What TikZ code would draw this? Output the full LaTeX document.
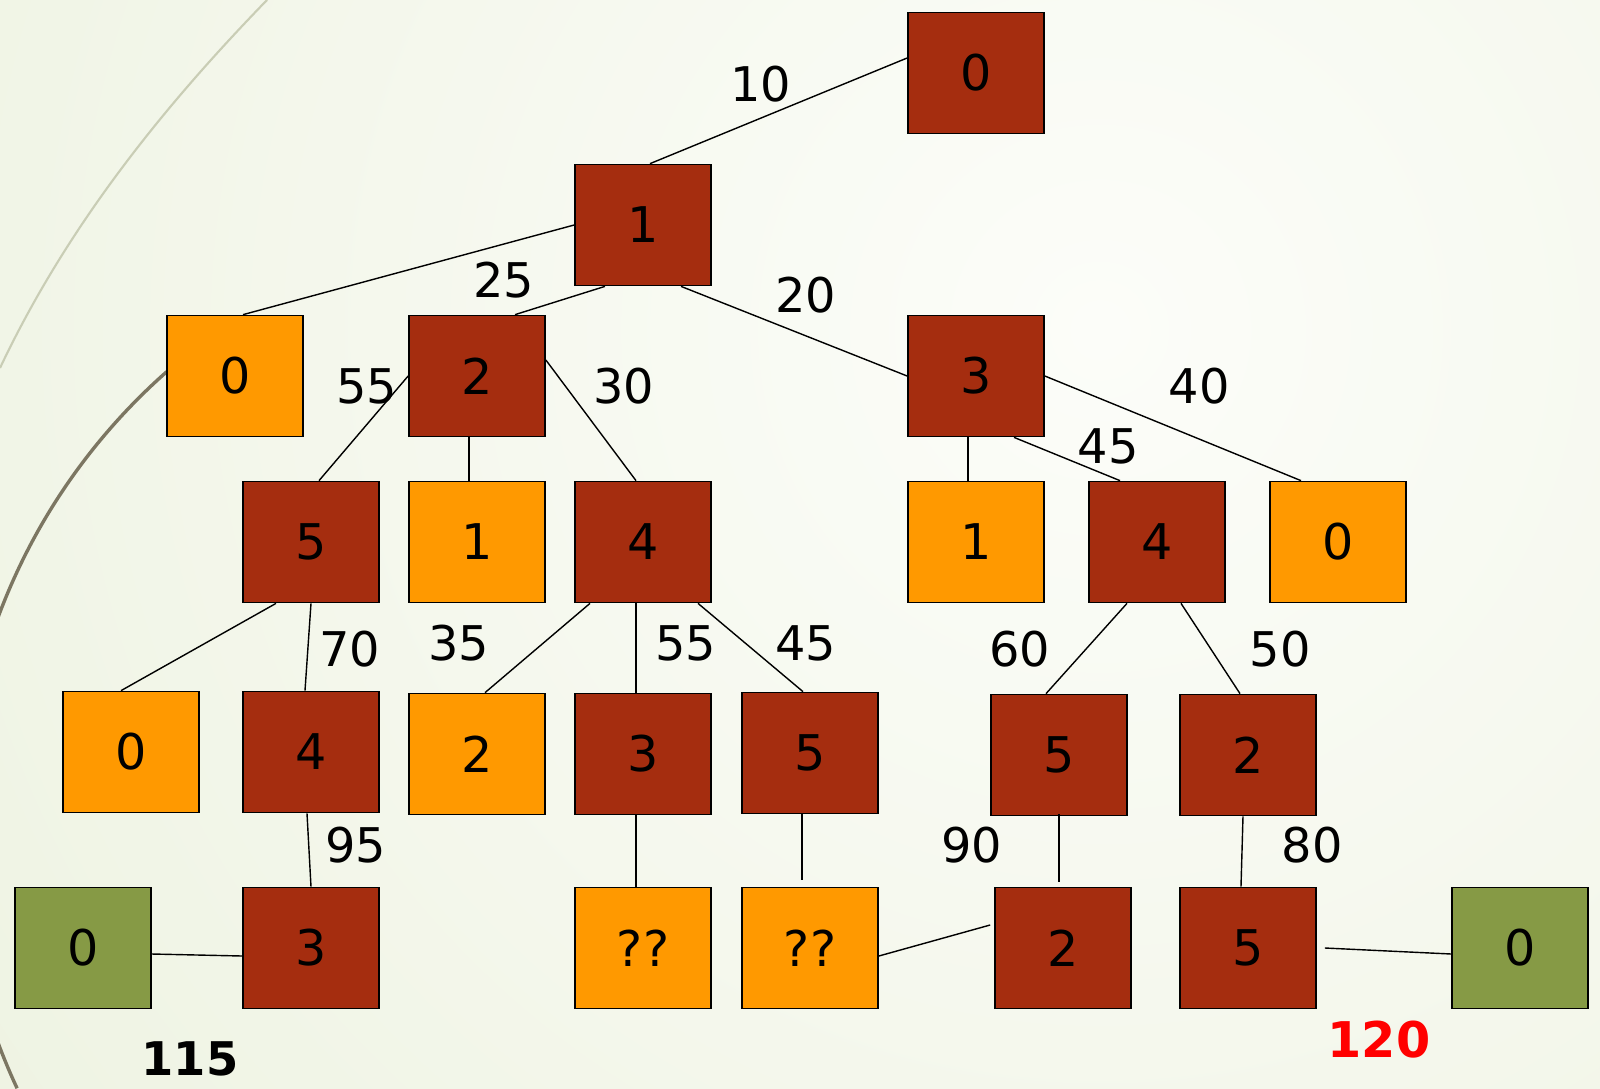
\documentclass[tikz,border=0pt]{standalone}
\usepackage{fontspec}
\setmainfont{DejaVu Sans}
\usetikzlibrary{calc}
\definecolor{nodebrown}{RGB}{165,45,15}
\definecolor{nodeorange}{RGB}{255,153,0}
\definecolor{nodegreen}{RGB}{134,154,69}
\definecolor{bgin}{RGB}{252,253,249}
\definecolor{bgout}{RGB}{226,234,206}
\definecolor{arcdark}{RGB}{124,118,98}
\definecolor{arclight}{RGB}{201,205,181}

\begin{document}
\begin{tikzpicture}[
    x=0.025cm, y=-0.025cm,
    cell/.style={draw, line width=1.2pt, minimum width=3.4cm, minimum height=3.025cm, inner sep=0pt, font=\fontsize{35}{40}\selectfont},
    hot/.style={cell, fill=nodebrown},
    leaf/.style={cell, fill=nodeorange},
    goal/.style={cell, fill=nodegreen},
    link/.style={line width=1pt},
    cost/.style={inner sep=0pt, font=\fontsize{34}{40}\selectfont},
    total/.style={inner sep=0pt, font=\bfseries\fontsize{33}{38}\selectfont}
]
  \useasboundingbox (0,0) rectangle (1600,1088);
  % background
  \begin{scope}
    \clip (0,0) rectangle (1600,1088);
    \shade[inner color=bgin, outer color=bgout] (1100,330) circle[radius=65cm];
    \draw[arclight, line width=1.5pt] (267,0) .. controls (170,100) and (70,220) .. (0,368);
    \draw[arcdark, line width=2.4pt] (571,830) ++(131.4:15.275cm) arc[start angle=131.4, end angle=205, radius=15.275cm];
  \end{scope}

  % search tree
  \node[hot] (r0) at (976,73) {0};
  \node[hot] (s1) at (643,225) {1};

  \node[leaf] (a0) at (235,376) {0};
  \node[hot] (a2) at (477,376) {2};
  \node[hot] (a3) at (976,376) {3};

  \node[hot] (b5) at (311,542) {5};
  \node[leaf] (b1) at (477,542) {1};
  \node[hot] (b4) at (643,542) {4};
  \node[leaf] (b1r) at (976,542) {1};
  \node[hot] (b4r) at (1157,542) {4};
  \node[leaf] (b0r) at (1338,542) {0};

  \node[leaf] (c0) at (131,752) {0};
  \node[hot] (c4) at (311,752) {4};
  \node[leaf] (c2) at (477,754) {2};
  \node[hot] (c3) at (643,754) {3};
  \node[hot] (c5) at (810,753) {5};
  \node[hot] (c5r) at (1059,755) {5};
  \node[hot] (c2r) at (1248,755) {2};

  \node[goal] (d0) at (83,948) {0};
  \node[hot] (d3) at (311,948) {3};
  \node[leaf] (dq) at (643,948) {??};
  \node[leaf] (dqq) at (810,948) {??};
  \node[hot] (d2) at (1063,948) {2};
  \node[hot] (d5) at (1248,948) {5};
  \node[goal] (d0r) at (1520,948) {0};

  % edges
  \draw[link] ($(r0.west)+(0,-15)$) -- ($(s1.north)+(7,0)$);
  \draw[link] (s1.west) -- ($(a0.north)+(8,0)$);
  \draw[link] ($(s1.south)+(-38,0)$) -- ($(a2.north)+(38,0)$);
  \draw[link] ($(s1.south)+(38,0)$) -- (a3.west);
  \draw[link] (a2.west) -- ($(b5.north)+(8,0)$);
  \draw[link] ($(a2.south)+(-8,0)$) -- ($(b1.north)+(-8,0)$);
  \draw[link] ($(a2.east)+(0,-16)$) -- ($(b4.north)+(-7,0)$);
  \draw[link] ($(a3.south)+(-8,0)$) -- ($(b1r.north)+(-8,0)$);
  \draw[link] ($(a3.south)+(38,0)$) -- ($(b4r.north)+(-37,0)$);
  \draw[link] (a3.east) -- ($(b0r.north)+(-37,0)$);
  \draw[link] ($(b5.south)+(-35,0)$) -- ($(c0.north)+(-10,0)$);
  \draw[link] (b5.south) -- ($(c4.north)+(-6,0)$);
  \draw[link] ($(b4.south)+(-53,0)$) -- ($(c2.north)+(8,0)$);
  \draw[link] ($(b4.south)+(-7,0)$) -- ($(c3.north)+(-7,0)$);
  \draw[link] ($(b4.south)+(55,0)$) -- ($(c5.north)+(-7,0)$);
  \draw[link] ($(b4r.south)+(-30,0)$) -- ($(c5r.north)+(-13,0)$);
  \draw[link] ($(b4r.south)+(24,0)$) -- ($(c2r.north)+(-8,0)$);
  \draw[link] ($(c4.south)+(-4,0)$) -- (d3.north);
  \draw[link] ($(c3.south)+(-7,0)$) -- ($(dq.north)+(-7,0)$);
  \draw[link] ($(c5.south)+(-8,0)$) -- ($(dqq.north)+(-8,-7)$);
  \draw[link] ($(c5r.south)+(0,-2)$) -- ($(d2.north)+(-4,-5)$);
  \draw[link] ($(c2r.south)+(-5,0)$) -- ($(d5.north)+(-7,0)$);
  \draw[link] ($(d0.east)+(0,6)$) -- ($(d3.west)+(0,8)$);
  \draw[link] ($(dqq.east)+(0,8)$) -- ($(d2.west)+(-4,-23)$);
  \draw[link] ($(d5.east)+(8,0)$) -- ($(d0r.west)+(0,6)$);

  % costs
  \node[cost] (w10) at (761,84) {10};
  \node[cost] (w25) at (504,280) {25};
  \node[cost] (w20) at (806,295) {20};
  \node[cost] (w55a) at (367,386) {55};
  \node[cost] (w30) at (624,386) {30};
  \node[cost] (w40) at (1199,386) {40};
  \node[cost] (w45a) at (1108,446) {45};
  \node[cost] (w70) at (350,649) {70};
  \node[cost] (w35) at (459,643) {35};
  \node[cost] (w55b) at (686,643) {55};
  \node[cost] (w45b) at (806,643) {45};
  \node[cost] (w60) at (1020,649) {60};
  \node[cost] (w50) at (1280,649) {50};
  \node[cost] (w95) at (356,845) {95};
  \node[cost] (w90) at (972,845) {90};
  \node[cost] (w80) at (1312,845) {80};
  \node[total] (sum115) at (190,1059) {115};
  \node[total, text=red, font=\bfseries\fontsize{35}{40}\selectfont] (sum120) at (1379,1040) {120};
\end{tikzpicture}
\end{document}
